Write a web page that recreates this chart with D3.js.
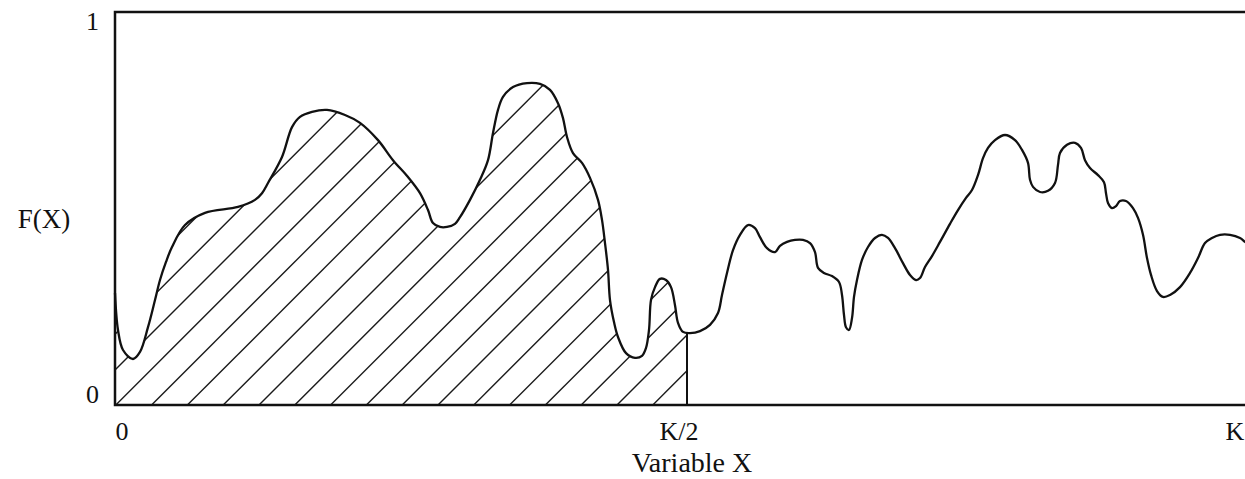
<!DOCTYPE html>
<html>
<head>
<meta charset="utf-8">
<script src="https://cdn.jsdelivr.net/npm/d3@7"></script>
<style>
  html, body { margin: 0; padding: 0; background: #fff; }
  svg { display: block; }
  text { font-family: "Liberation Serif", "Times New Roman", serif; fill: #111; }
</style>
</head>
<body>
<svg id="chart" width="1245" height="479"></svg>
<script>
// X in units where K = 1144 (K/2 = 572); F(X) in [0, 1]
const K = 1144;
const xVals = [0,3,8,18,25,33,40,45,51,57,70,90,123,140,147,153,167,177,185,197,212,230,245,263,278,293,305,313,318,325,332,340,345,355,365,373,378,383,388,398,412,425,435,443,448,452,458,467,475,483,487,490,493,495,499,503,511,520,527,531,534,536,540,545,551,556,560,563,568,575,585,595,603,607,612,618,625,633,640,645,652,660,665,672,680,688,695,700,703,709,717,724,727,729,731,734,737,739,742,747,753,760,767,773,780,788,795,801,805,810,817,825,835,843,851,857,863,868,873,880,890,900,907,913,915,918,925,933,940,943,945,952,960,966,970,975,983,989,991,993,997,1001,1005,1011,1018,1023,1028,1032,1036,1042,1048,1055,1065,1075,1083,1090,1097,1105,1115,1125,1130,1137];
const fVals = [0.285,0.191,0.140,0.117,0.135,0.198,0.267,0.318,0.364,0.402,0.458,0.489,0.504,0.522,0.539,0.565,0.631,0.707,0.733,0.746,0.751,0.738,0.718,0.674,0.623,0.580,0.539,0.496,0.463,0.453,0.453,0.461,0.478,0.522,0.573,0.623,0.692,0.751,0.784,0.809,0.819,0.817,0.802,0.768,0.730,0.682,0.641,0.616,0.578,0.522,0.471,0.412,0.344,0.267,0.211,0.173,0.132,0.120,0.125,0.145,0.191,0.267,0.300,0.321,0.318,0.300,0.254,0.209,0.186,0.183,0.188,0.204,0.234,0.280,0.336,0.394,0.433,0.458,0.450,0.427,0.399,0.389,0.405,0.415,0.420,0.420,0.412,0.389,0.349,0.336,0.328,0.313,0.280,0.229,0.198,0.191,0.221,0.275,0.318,0.369,0.402,0.425,0.433,0.425,0.399,0.361,0.331,0.318,0.323,0.351,0.379,0.415,0.461,0.496,0.527,0.547,0.585,0.628,0.654,0.674,0.687,0.674,0.649,0.616,0.573,0.555,0.542,0.545,0.565,0.611,0.641,0.662,0.667,0.654,0.623,0.603,0.585,0.567,0.539,0.514,0.501,0.506,0.519,0.519,0.501,0.476,0.433,0.374,0.331,0.290,0.275,0.280,0.300,0.336,0.374,0.412,0.425,0.433,0.433,0.425,0.415,0.402];

const xTickLabels = ["0", "K/2", "K"];
const xTickValues = [0, K / 2, K];
const yTickLabels = ["0", "1"];
const yTickValues = [0, 1];
const xTitle = "Variable X";
const yTitle = "F(X)";
const shadeLimit = K / 2;

const data = xVals.map((v, i) => ({ x: v, f: fVals[i] }));

const svg = d3.select("#chart");
const x = d3.scaleLinear().domain([0, K]).range([115, 1259]);
const y = d3.scaleLinear().domain([0, 1]).range([405, 12]);

const curve = d3.curveCatmullRom.alpha(0.5);
const line = d3.line().x(d => x(d.x)).y(d => y(d.f)).curve(curve);
const area = d3.area().x(d => x(d.x)).y0(y(0)).y1(d => y(d.f)).curve(curve);

const defs = svg.append("defs");
defs.append("clipPath").attr("id", "underCurve")
  .append("path").attr("d", area(data));
defs.append("clipPath").attr("id", "leftHalf")
  .append("rect")
  .attr("x", x(0)).attr("y", y(1))
  .attr("width", x(shadeLimit) - x(0)).attr("height", y(0) - y(1));

// Hatching (45 degree lines) under the curve for X <= K/2
const spacing = 35.8;
const H = y(0) - y(1);
const hatchStarts = d3.range(x(0) - H, x(shadeLimit) + 1, spacing);
svg.append("g").attr("clip-path", "url(#leftHalf)")
  .append("g").attr("clip-path", "url(#underCurve)")
  .selectAll("line").data(hatchStarts).join("line")
  .attr("x1", d => d).attr("y1", y(0))
  .attr("x2", d => d + H).attr("y2", y(0) - H)
  .attr("stroke", "#1a1a1a").attr("stroke-width", 1.4);

// Vertical line at K/2
const idx = d3.bisector(d => d.x).left(data, shadeLimit);
const a = data[idx - 1], b = data[idx];
const fHalf = a.f + (b.f - a.f) * (shadeLimit - a.x) / (b.x - a.x);
svg.append("line")
  .attr("x1", x(shadeLimit)).attr("x2", x(shadeLimit))
  .attr("y1", y(0)).attr("y2", y(fHalf))
  .attr("stroke", "#111").attr("stroke-width", 2);

// Curve
svg.append("path").attr("d", line(data))
  .attr("fill", "none").attr("stroke", "#111").attr("stroke-width", 2.3);

// Frame
const frame = svg.append("g").attr("stroke", "#111").attr("stroke-width", 2.5).attr("fill", "none");
frame.append("path").attr("d", `M${x(K)},${y(1)}H${x(0)}V${y(0)}H${x(K)}`);

// Y tick labels
svg.selectAll(".ylab").data(yTickValues).join("text")
  .attr("class", "ylab")
  .attr("x", x(0) - 16)
  .attr("y", (d, i) => i === 0 ? y(d) - 2 : y(d) + 18)
  .attr("text-anchor", "end")
  .attr("font-size", 26)
  .text((d, i) => yTickLabels[i]);

// X tick labels
const xOff = [7, -8, -24];
svg.selectAll(".xlab").data(xTickValues).join("text")
  .attr("class", "xlab")
  .attr("x", (d, i) => x(d) + xOff[i])
  .attr("y", y(0) + 35)
  .attr("text-anchor", "middle")
  .attr("font-size", 26)
  .text((d, i) => xTickLabels[i]);

// Titles
svg.append("text").attr("x", x(K / 2) + 5).attr("y", y(0) + 67)
  .attr("text-anchor", "middle").attr("font-size", 28).text(xTitle);
svg.append("text").attr("x", 44).attr("y", 228)
  .attr("text-anchor", "middle").attr("font-size", 27).text(yTitle);
</script>
</body>
</html>
